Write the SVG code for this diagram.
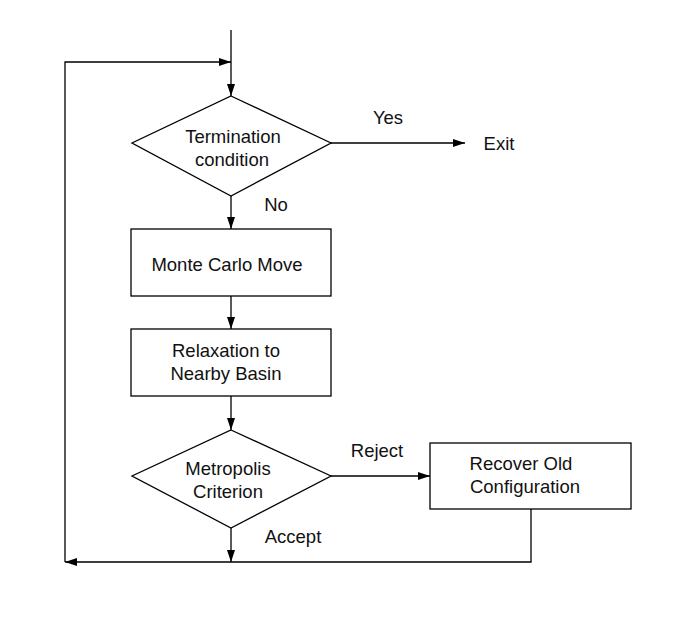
<svg xmlns="http://www.w3.org/2000/svg" width="677" height="618" viewBox="0 0 677 618">
<defs>
<marker id="ah" markerWidth="12" markerHeight="8" refX="12" refY="4" orient="auto" markerUnits="userSpaceOnUse">
<path d="M0,0 L12,4 L0,8 Z" fill="#000"/>
</marker>
<style>
.s{fill:#fff;stroke:#000;stroke-width:1.3}
.c{fill:none;stroke:#000;stroke-width:1.3}
text{font-family:"Liberation Sans",Arial,sans-serif;font-size:18.5px;fill:#111}
.m{text-anchor:middle}
</style>
</defs>
<rect width="677" height="618" fill="#fff"/>
<g id="connectors">
<path class="c" d="M231,30 V96" marker-end="url(#ah)"/>
<path class="c" d="M65,562 V62 H231" marker-end="url(#ah)"/>
<path class="c" d="M331,143 H465" marker-end="url(#ah)"/>
<path class="c" d="M231,196 V229" marker-end="url(#ah)"/>
<path class="c" d="M231,296 V329" marker-end="url(#ah)"/>
<path class="c" d="M231,396 V430" marker-end="url(#ah)"/>
<path class="c" d="M331,476 H430" marker-end="url(#ah)"/>
<path class="c" d="M231,528 V562" marker-end="url(#ah)"/>
<path class="c" d="M531,509 V562 H65" marker-end="url(#ah)"/>
<text x="388" y="124" class="m">Yes</text>
<text x="499" y="150" class="m">Exit</text>
<text x="276" y="211" class="m">No</text>
<text x="377" y="457" class="m">Reject</text>
<text x="293" y="543" class="m">Accept</text>
</g>
<g id="termination">
<polygon class="s" points="231,96 331,143 231,196 132,143"/>
<text x="233" y="143" class="m">Termination</text>
<text x="232" y="166" class="m">condition</text>
</g>
<g id="monte-carlo">
<rect class="s" x="131" y="229" width="200" height="67"/>
<text x="227" y="271" class="m">Monte Carlo Move</text>
</g>
<g id="relaxation">
<rect class="s" x="131" y="329" width="200" height="67"/>
<text x="226" y="357" class="m">Relaxation to</text>
<text x="226" y="380" class="m">Nearby Basin</text>
</g>
<g id="metropolis">
<polygon class="s" points="231,430 331,476 231,528 132,476"/>
<text x="228" y="475" class="m">Metropolis</text>
<text x="228" y="498" class="m">Criterion</text>
</g>
<g id="recover">
<rect class="s" x="430" y="443" width="201" height="66"/>
<text x="521" y="470" class="m">Recover Old</text>
<text x="525" y="493" class="m">Configuration</text>
</g>
</svg>
